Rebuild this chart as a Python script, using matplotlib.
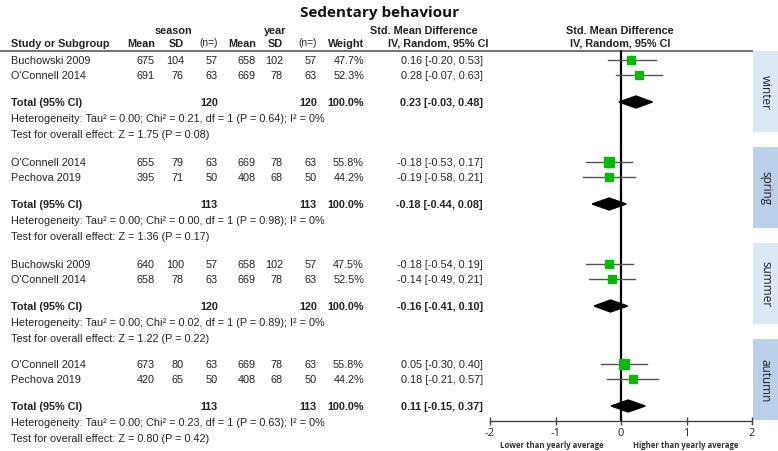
import matplotlib
matplotlib.use("Agg")
import matplotlib.pyplot as plt
from matplotlib.patches import Rectangle, Polygon

# ---- data ----
groups = ["winter", "spring", "summer", "autumn"]
studies = [["Buchowski 2009", "O'Connell 2014"],
           ["O'Connell 2014", "Pechova 2019"],
           ["Buchowski 2009", "O'Connell 2014"],
           ["O'Connell 2014", "Pechova 2019"]]
season_mean = [[675, 691], [655, 395], [640, 658], [673, 420]]
season_sd = [[104, 76], [79, 71], [100, 78], [80, 65]]
season_n = [[57, 63], [63, 50], [57, 63], [63, 50]]
year_mean = [[658, 669], [669, 408], [658, 669], [669, 408]]
year_sd = [[102, 78], [78, 68], [102, 78], [78, 68]]
year_n = [[57, 63], [63, 50], [57, 63], [63, 50]]
weights = [[47.7, 52.3], [55.8, 44.2], [47.5, 52.5], [55.8, 44.2]]
smd = [[0.16, 0.28], [-0.18, -0.19], [-0.18, -0.14], [0.05, 0.18]]
smd_lo = [[-0.20, -0.07], [-0.53, -0.58], [-0.54, -0.49], [-0.30, -0.21]]
smd_hi = [[0.53, 0.63], [0.17, 0.21], [0.19, 0.21], [0.40, 0.57]]
total_n = [120, 113, 120, 113]
total_smd = [0.23, -0.18, -0.16, 0.11]
total_lo = [-0.03, -0.44, -0.41, -0.15]
total_hi = [0.48, 0.08, 0.10, 0.37]
tau2 = [0.00, 0.00, 0.00, 0.00]
chi2 = [0.21, 0.00, 0.02, 0.23]
het_p = [0.64, 0.98, 0.89, 0.63]
i2 = [0, 0, 0, 0]
z_val = [1.75, 1.36, 1.22, 0.80]
z_p = [0.08, 0.17, 0.22, 0.42]
x_ticks = [-2, -1, 0, 1, 2]

# ---- layout (pixel coords, y down) ----
W, H = 778, 452
group_y = [61, 163, 265, 365]
strip_colors = ["#dde8f5", "#b9d0ea", "#dde8f5", "#b9d0ea"]
col_right = [155, 184, 218, 256, 283, 317, 364]
ci_right = 483
txt = "#222222"
tab = ["Liberation Sans", "DejaVu Sans"]
fs = 7.85

fig = plt.figure(figsize=(W / 100, H / 100), dpi=100)
fig.set_facecolor("white")
ax0 = fig.add_axes([0, 0, 1, 1])
ax0.set_xlim(0, W)
ax0.set_ylim(H, 0)
ax0.axis("off")

ax0.text(380, 13, "Sedentary behaviour", ha="center", va="center",
         family="Open Sans", weight="bold", fontsize=11, color="#111111")

# headers
hd = dict(va="center", family=tab, weight="bold", fontsize=fs, color=txt)
ax0.text(173, 30.5, "season", ha="center", **hd)
ax0.text(275, 30.5, "year", ha="center", **hd)
ax0.text(424, 30.5, "Std. Mean Difference", ha="center", **hd)
ax0.text(620, 30.5, "Std. Mean Difference", ha="center", **hd)
ax0.text(11, 44, "Study or Subgroup", ha="left", **hd)
for x, lab in zip(col_right, ["Mean", "SD", "(n=)", "Mean", "SD", "(n=)", "Weight"]):
    if lab == "(n=)":
        ax0.text(x, 42.5, lab, ha="right", va="center", family=tab,
                 fontsize=fs - 0.6, color=txt)
    else:
        ax0.text(x, 44, lab, ha="right", **hd)
ax0.text(438, 44, "IV, Random, 95% CI", ha="center", **hd)
ax0.text(620, 44, "IV, Random, 95% CI", ha="center", **hd)
ax0.plot([0, 752], [51.5, 51.5], color="#777777", lw=1.5)

# table rows
rg = dict(va="center", family=tab, fontsize=fs, color=txt)
for g in range(4):
    y0 = group_y[g]
    for k in range(2):
        y = y0 + 15 * k
        ax0.text(11, y, studies[g][k], ha="left", **rg)
        vals = [season_mean[g][k], season_sd[g][k], season_n[g][k],
                year_mean[g][k], year_sd[g][k], year_n[g][k]]
        for x, v in zip(col_right, vals):
            ax0.text(x, y, str(v), ha="right", **rg)
        ax0.text(col_right[6], y, "%.1f%%" % weights[g][k], ha="right", **rg)
        ax0.text(ci_right, y, "%.2f [%.2f, %.2f]" % (smd[g][k], smd_lo[g][k], smd_hi[g][k]),
                 ha="right", **rg)
    yt = y0 + 42
    ax0.text(11, yt, "Total (95% CI)", ha="left", weight="bold", **rg)
    ax0.text(col_right[2], yt, str(total_n[g]), ha="right", weight="bold", **rg)
    ax0.text(col_right[5], yt, str(total_n[g]), ha="right", weight="bold", **rg)
    ax0.text(col_right[6], yt, "100.0%", ha="right", weight="bold", **rg)
    ax0.text(ci_right, yt, "%.2f [%.2f, %.2f]" % (total_smd[g], total_lo[g], total_hi[g]),
             ha="right", weight="bold", **rg)
    ax0.text(11, y0 + 58,
             "Heterogeneity: Tau\u00b2 = %.2f; Chi\u00b2 = %.2f, df = 1 (P = %.2f); I\u00b2 = %d%%"
             % (tau2[g], chi2[g], het_p[g], i2[g]), ha="left", **rg)
    ax0.text(11, y0 + 74, "Test for overall effect: Z = %.2f (P = %.2f)" % (z_val[g], z_p[g]),
             ha="left", **rg)

    # season strip
    top = 52 + 96 * g
    ax0.add_patch(Rectangle((753, top), 25, 81, facecolor=strip_colors[g], edgecolor="none"))
    ax0.text(765.5, top + 40.5, groups[g], rotation=270, ha="center", va="center",
             family="Open Sans", fontsize=8.5, color="#222222")

# ---- forest panel ----
ax = fig.add_axes([490 / W, (H - 422) / H, 262 / W, (422 - 51) / H])
ax.patch.set_alpha(0)
ax.set_xlim(-2, 2)
ax.set_ylim(422, 51)
for s in ["left", "right", "top"]:
    ax.spines[s].set_visible(False)
ax.spines["bottom"].set_color("#444444")
ax.spines["bottom"].set_linewidth(1.0)
ax.set_yticks([])
ax.set_xticks(x_ticks)
ax.set_xticklabels([str(t) for t in x_ticks], family="Open Sans", fontsize=8, color="#222222")
ax.tick_params(axis="x", direction="inout", length=6, width=1, color="#444444", pad=1)
ax.axvline(0, color="black", lw=1.6, zorder=2)

for g in range(4):
    y0 = group_y[g]
    for k in range(2):
        y = y0 + 15 * k
        ax.plot([smd_lo[g][k], smd_hi[g][k]], [y, y], color="#555555", lw=1.0, zorder=3)
        ax.plot(smd[g][k], y, marker="s", ms=weights[g][k] * 0.165 * 0.72,
                color="#00bb00", mec="#00bb00", zorder=4)
    yt = y0 + 42
    ax.add_patch(Polygon([[total_lo[g], yt], [total_smd[g], yt - 6],
                          [total_hi[g], yt], [total_smd[g], yt + 6]],
                         closed=True, facecolor="black", edgecolor="black", zorder=5))

ax0.text(552, 446, "Lower than yearly average", ha="center", va="center",
         family="Open Sans", weight="bold", fontsize=5.6, color="#333333")
ax0.text(686, 446, "Higher than yearly average", ha="center", va="center",
         family="Open Sans", weight="bold", fontsize=5.6, color="#333333")

fig.savefig("out.png", dpi=100)
